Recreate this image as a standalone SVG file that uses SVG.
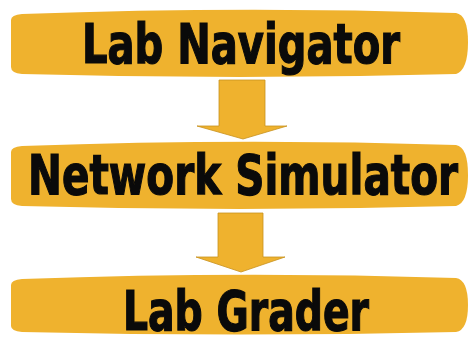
<svg xmlns="http://www.w3.org/2000/svg" width="469" height="337" viewBox="0 0 469 337">
<style>
.box{fill:#EFB22E;}
.arrow{fill:#EFB22E;stroke:#C8921E;stroke-width:0.8;}
.label{font-family:"DejaVu Sans Condensed","Liberation Sans",sans-serif;font-weight:bold;font-size:56px;fill:#0a0a0a;stroke:#0a0a0a;stroke-width:1.2;text-anchor:middle;}
</style>
<rect width="469" height="337" fill="#ffffff"/>
<g id="connectors">
<path class="arrow" d="M219,80 H265 V126 H287 L243,139 L197,126 H219 Z"/>
<path class="arrow" d="M218,213 H263 V257 H285 L241,272 L196,257 H218 Z"/>
</g>
<g id="node-lab-navigator">
<path class="box" d="M11,20 Q11,15 22,14 Q240,6 456,13 Q468,15 468,42 Q468,70 456,74 Q240,80 22,74 Q11,73 11,67 Z"/>
<text class="label" x="241" y="63" textLength="318" lengthAdjust="spacingAndGlyphs">Lab Navigator</text>
</g>
<g id="node-network-simulator">
<path class="box" d="M11,152 Q11,147 22,146 Q240,138 456,145 Q468,147 468,175 Q468,203 456,206 Q240,212 22,206 Q11,205 11,199 Z"/>
<text class="label" x="243" y="194" textLength="430" lengthAdjust="spacingAndGlyphs">Network Simulator</text>
</g>
<g id="node-lab-grader">
<path class="box" d="M11,285 Q11,280 22,279 Q240,271 456,278 Q468,280 468,305 Q468,330 456,332 Q240,337 22,332 Q11,331 11,326 Z"/>
<text class="label" x="246" y="330" textLength="246" lengthAdjust="spacingAndGlyphs">Lab Grader</text>
</g>
</svg>
